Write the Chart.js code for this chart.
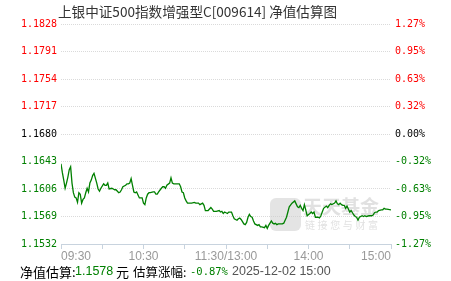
<!DOCTYPE html>
<html>
<head>
<meta charset="utf-8">
<script src="https://cdn.jsdelivr.net/npm/chart.js@4.4.0/dist/chart.umd.min.js"></script>
<style>
html,body{margin:0;padding:0;background:#fff;}
</style>
</head>
<body>
<canvas id="myChart" width="451" height="281"></canvas>
<script>
// minutes since 09:30 (trading minutes, lunch break removed)
const minutes = [0,1,2,3,4,5,6,7,8,9,10,11,12,13,14,15,16,17,18,19,20,21,22,23,24,26,27,28,29,31,32,33,34,35,37,38,39,40,42,43,44,45,47,48,49,50,51,52,53,54,55,56,57,59,60,61,62,63,64,65,67,68,69,70,71,73,74,75,76,77,79,80,81,82,83,84,86,87,88,89,90,91,92,93,94,95,97,98,99,100,101,103,104,105,106,107,109,110,111,112,113,115,116,117,118,119,121,122,123,124,125,126,128,129,130,131,133,134,135,136,137,138,139,140,141,143,144,145,146,148,149,150,151,152,153,154,155,156,157,158,160,161,162,163,164,165,166,168,170,171,172,173,174,175,176,177,178,179,181,182,183,184,185,187,188,189,190,191,193,194,195,196,197,199,200,201,202,203,204,205,206,207,208,210,211,212,213,214,215,216,217,219,220,221,222,224,225,226,227,228,229,230,231,233,234,235,236,237,240];
const navValues = [1.1640,1.1628,1.1618,1.1607,1.1614,1.1622,1.1632,1.1636,1.1614,1.1601,1.1595,1.1594,1.1588,1.1601,1.1599,1.1587,1.1592,1.1594,1.1601,1.1607,1.1602,1.1614,1.1618,1.1624,1.1627,1.1614,1.1606,1.1603,1.1607,1.1613,1.1611,1.1611,1.1614,1.1606,1.1607,1.1606,1.1605,1.1605,1.1601,1.1602,1.1605,1.1609,1.1611,1.1613,1.1613,1.1614,1.1620,1.1611,1.1602,1.1601,1.1602,1.1598,1.1594,1.1594,1.1587,1.1585,1.1594,1.1599,1.1601,1.1601,1.1602,1.1602,1.1599,1.1599,1.1602,1.1607,1.1609,1.1609,1.1607,1.1611,1.1614,1.1621,1.1614,1.1613,1.1613,1.1613,1.1613,1.1609,1.1602,1.1601,1.1594,1.1590,1.1587,1.1587,1.1587,1.1587,1.1588,1.1587,1.1587,1.1587,1.1585,1.1587,1.1584,1.1577,1.1577,1.1577,1.1581,1.1579,1.1576,1.1576,1.1576,1.1577,1.1575,1.1576,1.1573,1.1575,1.1573,1.1575,1.1575,1.1575,1.1570,1.1566,1.1564,1.1566,1.1567,1.1565,1.1559,1.1558,1.1561,1.1568,1.1572,1.1569,1.1568,1.1563,1.1559,1.1557,1.1558,1.1555,1.1555,1.1554,1.1557,1.1553,1.1557,1.1560,1.1563,1.1560,1.1559,1.1560,1.1558,1.1559,1.1559,1.1559,1.1560,1.1564,1.1568,1.1575,1.1582,1.1587,1.1590,1.1586,1.1582,1.1581,1.1584,1.1580,1.1577,1.1585,1.1578,1.1570,1.1573,1.1575,1.1573,1.1575,1.1568,1.1568,1.1567,1.1570,1.1575,1.1580,1.1583,1.1581,1.1584,1.1586,1.1585,1.1587,1.1590,1.1586,1.1585,1.1587,1.1585,1.1584,1.1584,1.1580,1.1583,1.1575,1.1577,1.1574,1.1571,1.1569,1.1568,1.1564,1.1568,1.1570,1.1569,1.1570,1.1569,1.1570,1.1570,1.1570,1.1571,1.1574,1.1575,1.1575,1.1577,1.1578,1.1578,1.1580,1.1579,1.1579,1.1578];

const timeTicks = [0,60,120,180,240];
const timeLabels = ['09:30','10:30','11:30/13:00','14:00','15:00'];
const navTicks = [1.1532,1.1569,1.1606,1.1643,1.1680,1.1717,1.1754,1.1791,1.1828];
const pctTicks = ['-1.27%','-0.95%','-0.63%','-0.32%','0.00%','0.32%','0.63%','0.95%','1.27%'];
const prevNav = 1.1680;

const fundTitle = '上银中证500指数增强型C[009614] 净值估算图';
const lastNav = '1.1578';
const lastPct = '-0.87%';
const lastTime = '2025-12-02 15:00';

const RED = '#ff0000', GREEN = '#008000', BLACK = '#000000';
const tickColor = (ctx) => {
  const v = ctx.tick.value;
  if (Math.abs(v - prevNav) < 1e-7) return BLACK;
  return v > prevNav ? RED : GREEN;
};
const monoFont = {family: '"DejaVu Sans Mono", monospace', size: 10};

const extras = {
  id: 'extras',
  beforeDatasetsDraw(chart) {
    const c = chart.ctx;
    c.save();
    // watermark
    c.fillStyle = 'rgba(205,205,205,0.55)';
    c.beginPath();
    c.roundRect(270, 198, 31, 33, 6);
    c.fill();
    c.fillStyle = 'rgba(200,200,200,0.55)';
    c.font = 'bold 19px "Noto Sans CJK SC"';
    c.textBaseline = 'middle';
    c.fillText('天天基金', 303, 207);
    c.font = '10px "Noto Sans CJK SC"';
    const slogan = '链接您与财富';
    for (let i = 0; i < slogan.length; i++) c.fillText(slogan[i], 305 + i * 12.6, 225);
    c.restore();
  },
  afterDraw(chart) {
    const c = chart.ctx;
    c.save();
    c.textBaseline = 'middle';
    c.fillStyle = '#333';
    c.font = '13.6px "Noto Sans CJK SC"';
    c.fillText(fundTitle, 58, 12);

    const y = 272;
    // [text, x, colour, font]
    const parts = [
      ['净值估算:', 20, BLACK, '13px "Noto Sans CJK SC"'],
      [lastNav, 75, GREEN, '12.5px "Liberation Sans"'],
      ['元', 116, BLACK, '13px "Noto Sans CJK SC"'],
      ['估算涨幅:', 133, BLACK, '12.5px "Noto Sans CJK SC"'],
      [lastPct, 190, GREEN, '10.5px "DejaVu Sans Mono"'],
      [lastTime, 232, '#555', '12.5px "Liberation Sans"']
    ];
    parts.forEach(([t, x, col, f]) => {
      c.font = f;
      c.fillStyle = col;
      c.fillText(t, x, y);
    });
    c.restore();
  }
};

const ctx = document.getElementById('myChart').getContext('2d');
const myChart = new Chart(ctx, {
  type: 'line',
  data: {
    datasets: [{
      data: minutes.map((m, i) => ({x: m, y: navValues[i]})),
      borderColor: GREEN,
      borderWidth: 1.3,
      pointRadius: 0,
      tension: 0,
      fill: false
    }]
  },
  options: {
    responsive: false,
    animation: false,
    devicePixelRatio: 1,
    layout: {padding: {top: 24, left: 0, right: 0, bottom: 0}},
    plugins: {legend: {display: false}, tooltip: {enabled: false}},
    scales: {
      x: {
        type: 'linear',
        min: 0,
        max: 240,
        afterBuildTicks: (axis) => {
          axis.ticks = [0,30,60,90,120,150,180,210,240].map(v => ({value: v}));
        },
        afterFit: (axis) => { axis.height = 37; },
        ticks: {
          autoSkip: false,
          maxRotation: 0,
          align: 'inner',
          padding: 0,
          color: '#999',
          font: {family: '"Liberation Sans", Arial', size: 12},
          callback: (v) => {
            const i = timeTicks.indexOf(v);
            return i >= 0 ? timeLabels[i] : '';
          }
        },
        grid: {drawOnChartArea: false, drawTicks: true, tickLength: 5, color: '#c8d3de'},
        border: {display: true, color: '#c8d3de'}
      },
      y: {
        position: 'left',
        min: navTicks[0],
        max: navTicks[navTicks.length - 1],
        afterBuildTicks: (axis) => { axis.ticks = navTicks.map(v => ({value: v})); },
        afterFit: (axis) => { axis.width = 61; },
        ticks: {
          padding: 4,
          color: tickColor,
          font: monoFont,
          callback: (v) => v.toFixed(4)
        },
        grid: {
          drawTicks: false,
          color: (c) => c.tick && Math.abs(c.tick.value - navTicks[0]) < 1e-7 ? 'rgba(0,0,0,0)' : '#dadada'
        },
        border: {display: false, dash: [1, 1]}
      },
      y2: {
        position: 'right',
        min: navTicks[0],
        max: navTicks[navTicks.length - 1],
        afterBuildTicks: (axis) => { axis.ticks = navTicks.map(v => ({value: v})); },
        afterFit: (axis) => { axis.width = 60; },
        ticks: {
          padding: 4,
          color: tickColor,
          font: monoFont,
          callback: (v, i) => pctTicks[i]
        },
        grid: {display: false, drawTicks: false},
        border: {display: false}
      }
    }
  },
  plugins: [extras]
});
</script>
</body>
</html>
